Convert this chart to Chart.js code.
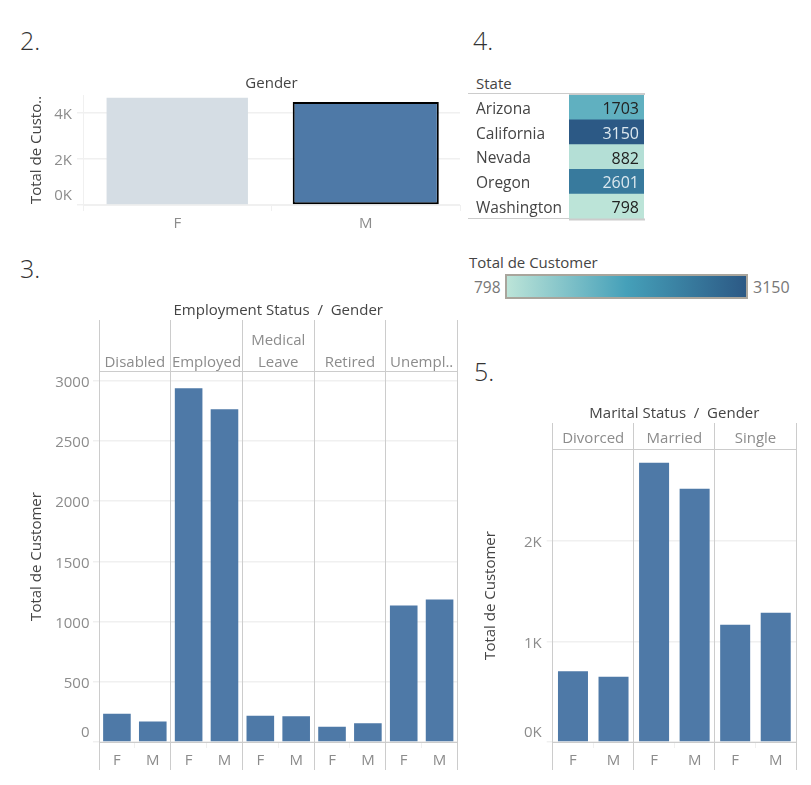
<!DOCTYPE html>
<html>
<head>
<meta charset="utf-8">
<script src="https://cdn.jsdelivr.net/npm/chart.js@4"></script>
<style>
    body { margin: 0; background: #fff; font-family: "Open Sans", sans-serif; }
    canvas { position: absolute; }
    .num { position: absolute; font-size: 25px; font-weight: 300; color: #333; line-height: 30px; }
    .txt { position: absolute; font-size: 15px; color: #444; line-height: 18px; white-space: nowrap; }
    #legendBar { position: absolute; left: 505px; top: 274px; width: 239px; height: 21px; border: 2px solid #a9a59c; }
</style>
</head>
<body>
<div class="num" style="left:20px;top:25px">2.</div>
<div class="num" style="left:473px;top:25px">4.</div>
<div class="num" style="left:20px;top:253px">3.</div>
<div class="num" style="left:474px;top:356px">5.</div>
<div class="txt" style="left:476px;top:74px">State</div>
<div class="txt" style="left:469px;top:253px">Total de Customer</div>
<div class="txt" style="left:474px;top:278px;color:#777;font-size:15.5px">798</div>
<div class="txt" style="left:753px;top:278px;color:#777;font-size:16px">3150</div>
<div id="legendBar"></div>

<canvas id="gender-chart" width="465" height="165" style="left:0;top:70px"></canvas>
<canvas id="state-chart" width="190" height="160" style="left:460px;top:70px"></canvas>
<canvas id="employment-chart" width="465" height="485" style="left:0;top:300px"></canvas>
<canvas id="marital-chart" width="346" height="382" style="left:465px;top:403px"></canvas>

<script>
// Data
var genders = ["F", "M"];
var genderTotals = [4658, 4476];
var genderTicks = [0, 2000, 4000];

var states = ["Arizona", "California", "Nevada", "Oregon", "Washington"];
var stateTotals = [1703, 3150, 882, 2601, 798];

var employmentStatus = ["Disabled", "Employed", ["Medical", "Leave"], "Retired", "Unempl.."];
var employmentF = [235, 2937, 218, 127, 1133];
var employmentM = [170, 2763, 214, 155, 1184];
var employmentTicks = [0, 500, 1000, 1500, 2000, 2500, 3000];

var maritalStatus = ["Divorced", "Married", "Single"];
var maritalF = [705, 2779, 1167];
var maritalM = [650, 2520, 1287];
var maritalTicks = [0, 1000, 2000];

var barBlue = '#4e79a7';
var lineGrey = '#cccccc';
var gridGrey = '#f0f0f0';
var tickGrey = '#8c8c8c';
var titleGrey = '#444';
var fontName = '"Open Sans", sans-serif';

Chart.defaults.animation = false;
Chart.defaults.responsive = false;
Chart.defaults.font.family = fontName;

// Blue-teal ramp used by the table and its legend
var rampStops = [[188, 228, 216], [69, 160, 185], [44, 89, 133]];

function rampColor(value) {
    var t = (value - 798) / (3150 - 798);
    var a = t < 0.5 ? rampStops[0] : rampStops[1];
    var b = t < 0.5 ? rampStops[1] : rampStops[2];
    var k = t < 0.5 ? t * 2 : (t - 0.5) * 2;
    var c = [0, 1, 2].map(function(i) { return Math.round(a[i] + (b[i] - a[i]) * k); });
    return 'rgb(' + c.join(',') + ')';
}

document.getElementById('legendBar').style.background =
    'linear-gradient(to right, ' + [798, 1974, 3150].map(rampColor).join(', ') + ')';

function kLabel(value) {
    return (value / 1000) + 'K';
}

// Value axis shared by the three bar charts
function valueAxis(opts) {
    return {
        min: 0,
        max: opts.max,
        afterBuildTicks: function(scale) {
            scale.ticks = opts.ticks.map(function(v) { return { value: v }; });
        },
        afterFit: function(scale) { scale.width = opts.axisWidth; },
        title: {
            display: true,
            text: opts.yTitle,
            color: titleGrey,
            font: { size: 15 },
            padding: { top: opts.titleOffset, bottom: 0 }
        },
        border: { display: false },
        grid: { color: gridGrey, lineWidth: 1.5, tickLength: 6, tickColor: gridGrey },
        ticks: {
            padding: opts.tickPadding,
            color: 'transparent',
            font: { size: 15 },
            callback: opts.format
        }
    };
}

// Value labels sit a little under their gridline, and the zero label above the baseline
function valueLabels(format, padding) {
    return {
        id: 'valueLabels',
        afterDraw: function(chart) {
            var y = chart.scales.y;
            var ctx = chart.ctx;
            ctx.save();
            ctx.fillStyle = tickGrey;
            ctx.font = '15px ' + fontName;
            ctx.textAlign = 'right';
            ctx.textBaseline = 'middle';
            y.ticks.forEach(function(tick) {
                var shift = tick.value === 0 ? -9 : 2;
                ctx.fillText(format(tick.value), y.right - 6 - padding, y.getPixelForValue(tick.value) + shift);
            });
            ctx.restore();
        }
    };
}

function bottomAxis(borderColor) {
    return {
        position: 'bottom',
        afterFit: function(scale) { scale.height = 28; },
        border: { color: borderColor },
        grid: { offset: true, drawOnChartArea: false, color: gridGrey, tickLength: 6 },
        ticks: { color: tickGrey, font: { size: 15 }, padding: 4, maxRotation: 0, autoSkip: false }
    };
}

// Gender chart: each bar has its own dataset because the outlined one is wider
new Chart(document.getElementById('gender-chart'), {
    type: 'bar',
    data: {
        labels: genders,
        datasets: [
            { data: [genderTotals[0], null], backgroundColor: '#d5dde4', barPercentage: 0.75, categoryPercentage: 1 },
            { data: [null, genderTotals[1]], backgroundColor: barBlue, borderColor: '#000', borderWidth: 2, borderSkipped: false, barPercentage: 0.775, categoryPercentage: 1 }
        ]
    },
    options: {
        layout: { padding: { right: 5, bottom: 2 } },
        plugins: { legend: { display: false }, tooltip: { enabled: false } },
        scales: {
            x: Object.assign(bottomAxis(gridGrey), { stacked: true }),
            top: {
                type: 'category',
                position: 'top',
                labels: [''],
                afterFit: function(scale) { scale.height = 25; },
                border: { display: false },
                grid: { display: false },
                ticks: { display: false },
                title: { display: true, text: 'Gender', color: titleGrey, font: { size: 15 }, padding: { top: 5, bottom: 0 } }
            },
            y: Object.assign(valueAxis({
                max: 4783, ticks: genderTicks, axisWidth: 83, yTitle: 'Total de Custo..', titleOffset: 28, tickPadding: 5, format: kLabel
            }), { stacked: true })
        }
    },
    plugins: [valueLabels(kLabel, 5), {
        id: 'leftRule',
        beforeDatasetsDraw: function(chart) {
            var a = chart.chartArea;
            var ctx = chart.ctx;
            ctx.save();
            ctx.strokeStyle = gridGrey;
            ctx.beginPath();
            ctx.moveTo(a.left + 0.5, a.top);
            ctx.lineTo(a.left + 0.5, a.bottom + 6);
            ctx.stroke();
            ctx.restore();
        }
    }]
});

// State table: one cell per row, coloured by its total
new Chart(document.getElementById('state-chart'), {
    type: 'bar',
    data: {
        labels: states,
        datasets: [{
            data: states.map(function() { return [0, 1]; }),
            backgroundColor: stateTotals.map(rampColor),
            barPercentage: 1,
            categoryPercentage: 1
        }]
    },
    options: {
        indexAxis: 'y',
        layout: { padding: { left: 16, right: 6, top: 25, bottom: 11 } },
        plugins: { legend: { display: false }, tooltip: { enabled: false } },
        scales: {
            x: { display: false, min: 0, max: 1 },
            y: {
                afterFit: function(scale) { scale.width = 93; },
                border: { display: false },
                grid: { display: false, drawTicks: false },
                ticks: { crossAlign: 'far', padding: 0, color: 'transparent', font: { size: 15.5 } }
            }
        }
    },
    plugins: [{
        id: 'cellText',
        afterDatasetsDraw: function(chart) {
            var ctx = chart.ctx;
            var a = chart.chartArea;
            var y = chart.scales.y;
            ctx.save();
            ctx.textBaseline = 'middle';
            stateTotals.forEach(function(total, i) {
                var rowY = y.getPixelForValue(i) + 2;
                ctx.font = '15.5px ' + fontName;
                ctx.textAlign = 'left';
                ctx.fillStyle = titleGrey;
                ctx.fillText(states[i], y.left, rowY);
                ctx.font = '16px ' + fontName;
                ctx.textAlign = 'right';
                ctx.fillStyle = total > 2000 ? '#dce8ef' : '#222';
                ctx.fillText(total, a.right - 5, rowY);
            });
            // table rules
            ctx.strokeStyle = lineGrey;
            ctx.lineWidth = 1;
            ctx.beginPath();
            ctx.moveTo(8, a.top - 1.5);
            ctx.lineTo(a.left, a.top - 1.5);
            ctx.moveTo(8, a.bottom - 0.5);
            ctx.lineTo(a.left, a.bottom - 0.5);
            ctx.stroke();
            ctx.lineWidth = 2;
            ctx.beginPath();
            ctx.moveTo(a.left, a.top - 1);
            ctx.lineTo(a.right + 1, a.top - 1);
            ctx.moveTo(a.left, a.bottom + 0.5);
            ctx.lineTo(a.right + 1, a.bottom + 0.5);
            ctx.stroke();
            ctx.restore();
        }
    }]
});

// Bar chart split into facets, with F and M bars in each
function facetChart(canvasId, facets, valuesF, valuesM, opts) {
    var labels = [];
    var values = [];
    facets.forEach(function(facet, i) {
        labels.push(genders[0], genders[1]);
        values.push(valuesF[i], valuesM[i]);
    });

    return new Chart(document.getElementById(canvasId), {
        type: 'bar',
        data: {
            labels: labels,
            datasets: [{ data: values, backgroundColor: barBlue, barPercentage: opts.barPercentage, categoryPercentage: 1 }]
        },
        options: {
            layout: { padding: { right: opts.rightPadding, bottom: 15 } },
            plugins: { legend: { display: false }, tooltip: { enabled: false } },
            scales: {
                x: bottomAxis(lineGrey),
                top: {
                    type: 'category',
                    position: 'top',
                    labels: facets,
                    offset: true,
                    afterFit: function(scale) { scale.height = opts.headerHeight; },
                    border: { color: lineGrey },
                    grid: { display: false, drawTicks: false },
                    title: { display: true, text: opts.title, color: titleGrey, font: { size: 15 }, padding: { top: 2, bottom: 0 } },
                    ticks: {
                        color: tickGrey,
                        font: { size: 15, lineHeight: 1.47 },
                        padding: opts.headerPadding,
                        maxRotation: 0,
                        autoSkip: false
                    }
                },
                y: valueAxis(opts)
            }
        },
        plugins: [valueLabels(opts.format, opts.tickPadding), {
            id: 'facetLines',
            afterDatasetsDraw: function(chart) {
                var top = chart.scales.top;
                var ctx = chart.ctx;
                ctx.save();
                ctx.strokeStyle = lineGrey;
                ctx.lineWidth = 1;
                ctx.beginPath();
                for (var i = 0; i <= facets.length; i++) {
                    var x = Math.floor(top.left + i * top.width / facets.length) + 0.5;
                    ctx.moveTo(x, 20);
                    ctx.lineTo(x, chart.chartArea.bottom + 28);
                }
                ctx.stroke();
                ctx.restore();
            }
        }]
    });
}

facetChart('employment-chart', employmentStatus, employmentF, employmentM, {
    title: 'Employment Status  /  Gender',
    yTitle: 'Total de Customer',
    max: 3081,
    ticks: employmentTicks,
    axisWidth: 99,
    titleOffset: 28,
    tickPadding: 3.5,
    headerHeight: 71,
    headerPadding: -3,
    rightPadding: 7.5,
    barPercentage: 0.77,
    format: function(value) { return value; }
});

facetChart('marital-chart', maritalStatus, maritalF, maritalM, {
    title: 'Marital Status  /  Gender',
    yTitle: 'Total de Customer',
    max: 2915,
    ticks: maritalTicks,
    axisWidth: 87.7,
    titleOffset: 17,
    tickPadding: 5,
    headerHeight: 46,
    headerPadding: -1,
    rightPadding: 15,
    barPercentage: 0.74,
    format: kLabel
});
</script>
</body>
</html>
